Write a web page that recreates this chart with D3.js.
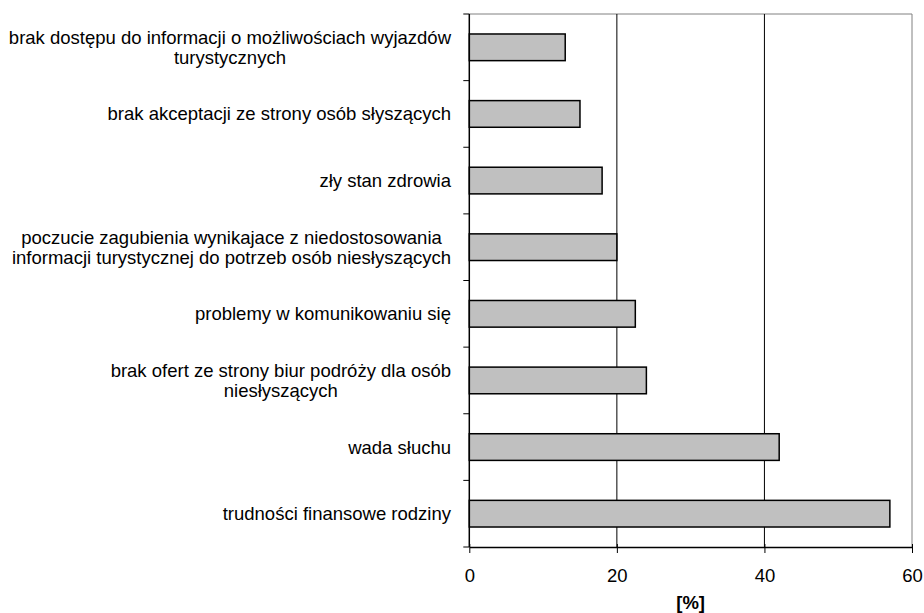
<!DOCTYPE html>
<html>
<head>
<meta charset="utf-8">
<script src="https://cdn.jsdelivr.net/npm/d3@7"></script>
<style>
  html, body { margin: 0; padding: 0; background: #fff; }
  svg { display: block; }
  text { font-family: "Liberation Sans", Arial, sans-serif; fill: #000; }
</style>
</head>
<body>
<svg id="chart" width="924" height="613"></svg>
<script>
// Reasons for not travelling (top to bottom), lines split as they are set
const categories = [
  ["brak dostępu do informacji o możliwościach wyjazdów", "turystycznych"],
  ["brak akceptacji ze strony osób słyszących"],
  ["zły stan zdrowia"],
  ["poczucie zagubienia wynikajace z niedostosowania", "informacji turystycznej do potrzeb osób niesłyszących"],
  ["problemy w komunikowaniu się"],
  ["brak ofert ze strony biur podróży dla osób", "niesłyszących"],
  ["wada słuchu"],
  ["trudności finansowe rodziny"]
];
const values = [13, 15, 18, 20, 22.5, 24, 42, 57];
const xTicks = [0, 20, 40, 60];
const xTitle = "[%]";

const fontSize = "18.5px";
const svg = d3.select("#chart");
const plotLeft = 469.3, plotRight = 912, plotTop = 14, plotBottom = 547;

const keys = categories.map((c, i) => i);
const x = d3.scaleLinear().domain([0, 60]).range([plotLeft, plotRight]);
const y = d3.scaleBand().domain(keys).range([plotTop, plotBottom]).paddingInner(0.6).paddingOuter(0.3);

// plot frame (top and right edges)
svg.append("path")
  .attr("d", `M${plotLeft},${plotTop}H${plotRight}V${plotBottom}`)
  .attr("fill", "none").attr("stroke", "#808080").attr("stroke-width", 1);

// vertical gridlines
svg.append("g").selectAll("line")
  .data(xTicks.filter(t => t > 0 && t < 60))
  .join("line")
  .attr("x1", d => x(d)).attr("x2", d => x(d))
  .attr("y1", plotTop).attr("y2", plotBottom)
  .attr("stroke", "#000").attr("stroke-width", 1);

// bars
svg.append("g").selectAll("rect")
  .data(values)
  .join("rect")
  .attr("x", x(0))
  .attr("y", (d, i) => y(i))
  .attr("width", d => x(d) - x(0))
  .attr("height", y.bandwidth())
  .attr("fill", "#c0c0c0")
  .attr("stroke", "#000")
  .attr("stroke-width", 1.5);

// x axis (ticks cross the axis line)
const xAxis = svg.append("g")
  .attr("transform", `translate(0,${plotBottom})`)
  .call(d3.axisBottom(x).tickValues(xTicks).tickSize(6).tickSizeOuter(0).tickPadding(16));
xAxis.select(".domain").attr("stroke", "#000").attr("stroke-width", 1.5);
xAxis.selectAll(".tick line").attr("stroke", "#000").attr("y1", -3);
xAxis.selectAll(".tick text")
  .style("font-family", '"Liberation Sans", Arial, sans-serif')
  .style("font-size", fontSize).attr("fill", "#000");

// y axis line with ticks at category boundaries
const boundaries = d3.range(categories.length + 1)
  .map(i => plotTop + i * (plotBottom - plotTop) / categories.length);
svg.append("line")
  .attr("x1", plotLeft).attr("x2", plotLeft).attr("y1", plotTop).attr("y2", plotBottom)
  .attr("stroke", "#000").attr("stroke-width", 1.5);
svg.append("g").selectAll("line")
  .data(boundaries)
  .join("line")
  .attr("x1", plotLeft - 6).attr("x2", plotLeft)
  .attr("y1", d => d).attr("y2", d => d)
  .attr("stroke", "#000").attr("stroke-width", 1);

// category labels: block right-aligned, lines centred within the block
const labelRight = 451;
const lineH = 20;
const lab = svg.append("g").style("font-size", fontSize);
categories.forEach((lines, i) => {
  const cy = y(i) + y.bandwidth() / 2;
  const g = lab.append("g");
  const texts = lines.map((s, j) => g.append("text")
    .attr("y", cy + (j - (lines.length - 1) / 2) * lineH)
    .attr("dy", "0.35em")
    .attr("text-anchor", "middle")
    .text(s));
  const maxW = d3.max(texts, t => t.node().getComputedTextLength());
  texts.forEach(t => t.attr("x", labelRight - maxW / 2));
});

// axis title
svg.append("text")
  .attr("x", (plotLeft + plotRight) / 2)
  .attr("y", 603)
  .attr("dy", "0.35em")
  .attr("text-anchor", "middle")
  .style("font-size", fontSize)
  .style("font-weight", "bold")
  .text(xTitle);
</script>
</body>
</html>
